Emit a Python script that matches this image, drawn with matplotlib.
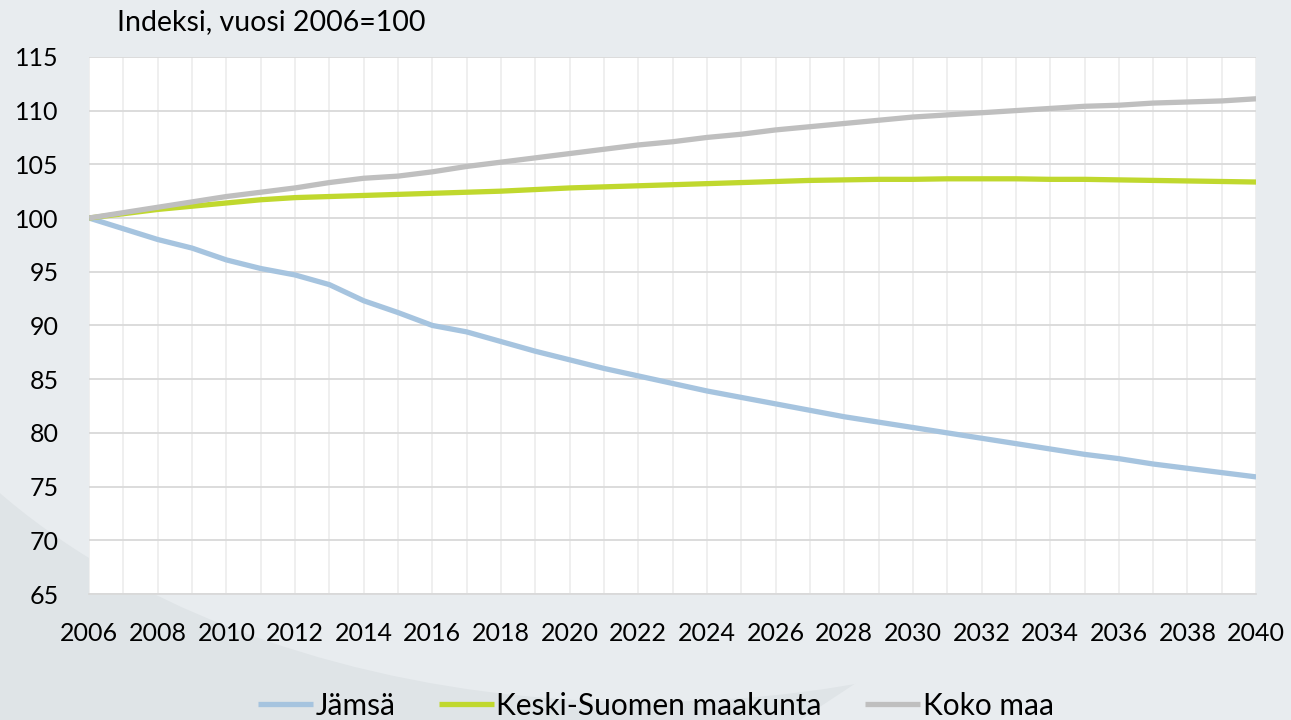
import numpy as np
import matplotlib.pyplot as plt
from matplotlib.patches import Ellipse, Polygon

# data
years = list(range(2006, 2041))
jamsa = [100.0, 99.0, 98.0, 97.2, 96.1, 95.3, 94.7, 93.8, 92.3, 91.2,
         90.0, 89.4, 88.5, 87.6, 86.8, 86.0, 85.3, 84.6, 83.9, 83.3,
         82.7, 82.1, 81.5, 81.0, 80.5, 80.0, 79.5, 79.0, 78.5, 78.0,
         77.6, 77.1, 76.7, 76.3, 75.9]
keski_suomi = [100.0, 100.4, 100.8, 101.1, 101.4, 101.7, 101.9, 102.0, 102.1, 102.2,
               102.3, 102.4, 102.5, 102.65, 102.8, 102.9, 103.0, 103.1, 103.2, 103.3,
               103.4, 103.5, 103.55, 103.6, 103.6, 103.65, 103.65, 103.65, 103.6, 103.6,
               103.55, 103.5, 103.45, 103.4, 103.35]
koko_maa = [100.0, 100.5, 101.0, 101.5, 102.0, 102.4, 102.8, 103.3, 103.7, 103.9,
            104.3, 104.8, 105.2, 105.6, 106.0, 106.4, 106.8, 107.1, 107.5, 107.8,
            108.2, 108.5, 108.8, 109.1, 109.4, 109.6, 109.8, 110.0, 110.2, 110.4,
            110.5, 110.7, 110.8, 110.9, 111.1]
labels = ['Jämsä', 'Keski-Suomen maakunta', 'Koko maa']
colors = ['#A6C4DF', '#C0D82E', '#BFBFBF']

plt.rcParams['font.family'] = ['Lato', 'DejaVu Sans']

fig = plt.figure(figsize=(12.91, 7.2), dpi=100)
fig.patch.set_facecolor('#DFE4E7')

# faint background shapes on a bottom layer
bg = fig.add_axes([0, 0, 1, 1], zorder=0)
bg.set_xlim(0, 1)
bg.set_ylim(0, 1)
bg.axis('off')
bg.add_patch(Ellipse((0.5, 0.75), 1.25, 1.45, facecolor='#E8ECEF', edgecolor='none'))
bg.add_patch(Polygon([(0.62, 0.0), (1.0, 0.0), (1.0, 0.45)], closed=True,
                     facecolor='#E8ECEF', edgecolor='none'))

ax = fig.add_axes([0.069, 0.175, 0.904, 0.746], zorder=1)
ax.set_facecolor('white')

for vals, lab, c in zip([jamsa, keski_suomi, koko_maa], labels, colors):
    ax.plot(years, vals, color=c, lw=3.8, label=lab, solid_capstyle='butt', zorder=3)

ax.set_xlim(2006, 2040)
ax.set_ylim(65, 115)
ax.set_yticks(range(65, 116, 5))
ax.set_xticks(range(2006, 2041, 2))
ax.set_xticks(range(2006, 2041, 1), minor=True)
ax.grid(axis='y', which='major', color='#D9D9D9', lw=1.3, zorder=1)
ax.grid(axis='x', which='both', color='#EEEEEE', lw=1.3, zorder=1)
ax.tick_params(length=0, which='both', labelsize=18, colors='black')
ax.tick_params(axis='x', pad=20)
ax.tick_params(axis='y', pad=22)
for s in ['top', 'right', 'left']:
    ax.spines[s].set_visible(False)
ax.spines['bottom'].set_color('#D9D9D9')
ax.spines['bottom'].set_linewidth(1.3)

fig.text(0.091, 0.97, 'Indeksi, vuosi 2006=100', fontsize=20.5, ha='left', va='center')

fig.legend(loc='center', bbox_to_anchor=(0.508, 0.02), ncol=3, frameon=False,
           fontsize=21.5, handlelength=1.85, handletextpad=0.08, columnspacing=1.45)

fig.savefig('out.png', dpi=100, facecolor=fig.get_facecolor())
